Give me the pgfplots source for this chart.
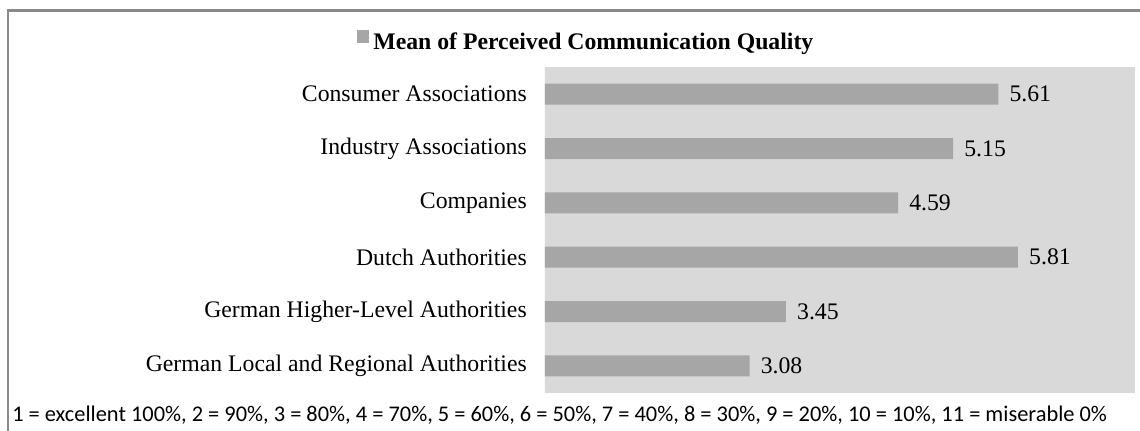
\documentclass[border=0pt]{standalone}
\usepackage{pgfplots}
\pgfplotsset{compat=1.18}
\usepackage{fontspec}
\setmainfont{Liberation Serif}
\newfontfamily\carlito{Carlito}
\definecolor{plotbg}{HTML}{D9D9D9}
\definecolor{barcol}{HTML}{A6A6A6}
\definecolor{framecol}{HTML}{8A8A8A}
\definecolor{axiscol}{HTML}{C8C8C8}
\begin{document}
\begin{tikzpicture}[x=0.75pt,y=0.75pt]
\path[use as bounding box] (0,0) rectangle (1140,430);
\draw[framecol, line width=1.6pt] (1142,419.5) -- (8,419.5) -- (8,-2);
\begin{axis}[
  at={(408.75pt,27.75pt)}, anchor=south west,
  scale only axis, width=442.5pt, height=244.5pt,
  xmin=1, xmax=7, ymin=-0.5, ymax=5.5,
  xbar, bar width=15.75pt,
  axis background/.style={fill=plotbg},
  axis line style={draw=none},
  xtick=\empty,
  ytick={0,1,2,3,4,5},
  yticklabels={German Local and Regional Authorities, German Higher-Level Authorities, Dutch Authorities, Companies, Industry Associations, Consumer Associations},
  major tick length=0pt,
  yticklabel style={font=\fontsize{17.8pt}{20pt}\selectfont, inner sep=0pt, xshift=-13.5pt},
  point meta=x,
  nodes near coords,
  nodes near coords align=horizontal,
  every node near coord/.append style={font=\fontsize{17.8pt}{20pt}\selectfont, black, inner sep=0pt, xshift=8.25pt},
  /pgf/number format/fixed,
  /pgf/number format/fixed zerofill,
  /pgf/number format/precision=2,
  /pgf/number format/assume math mode=true,
  legend style={at={(0.068,1.08)}, anchor=center, draw=none, fill=none,
    font=\bfseries\fontsize{17.8pt}{20pt}\selectfont, inner sep=0pt,
    nodes={inner sep=0pt}},
]
\draw[axiscol, line width=0.75pt] (axis cs:1,-0.5) -- (axis cs:1,5.5);
\addplot[fill=barcol, draw=none,
  legend image code/.code={\fill[barcol] (0pt,0pt) rectangle (9.4pt,9.4pt);}]
  coordinates {(3.08,0) (3.45,1) (5.81,2) (4.59,3) (5.15,4) (5.61,5)};
\addlegendentry{\hspace{3pt}Mean of Perceived Communication Quality}
\end{axis}
\node[anchor=base west, inner sep=0pt, font=\carlito\fontsize{16.8pt}{19pt}\selectfont] at (12,8.3) {1 = excellent 100\%, 2 = 90\%, 3 = 80\%, 4 = 70\%, 5 = 60\%, 6 = 50\%, 7 = 40\%, 8 = 30\%, 9 = 20\%, 10 = 10\%, 11 = miserable 0\%};
\end{tikzpicture}
\end{document}
